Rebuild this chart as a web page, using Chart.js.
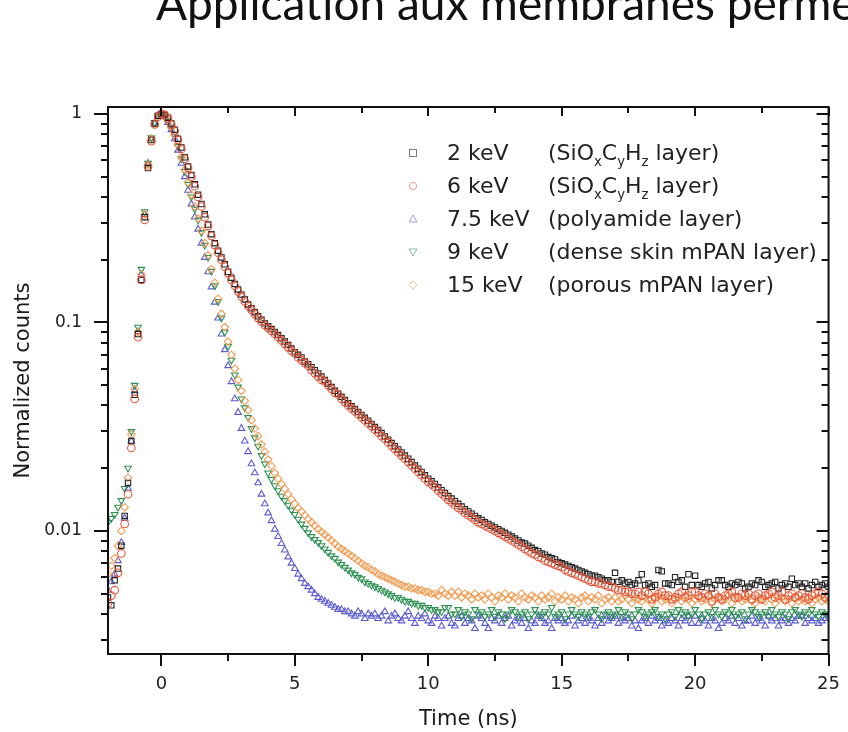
<!DOCTYPE html>
<html>
<head>
<meta charset="utf-8">
<script src="https://cdn.jsdelivr.net/npm/chart.js@4.4.1/dist/chart.umd.min.js"></script>
<style>
    html, body { margin: 0; padding: 0; background: #fff; }
    #contenedor { position: relative; width: 848px; height: 732px; overflow: hidden; }
    #graficaDecaimiento { position: absolute; left: 0; top: 0; }
    .titulo { position: absolute; left: 156px; top: -20px; font-family: Lato, 'Open Sans', sans-serif; font-size: 46px; line-height: 46px; white-space: nowrap; color: #111; }
    .fila-leyenda { position: absolute; left: 0; height: 24px; line-height: 24px; font-family: 'DejaVu Sans', sans-serif; font-size: 22px; color: #222; white-space: nowrap; }
    .fila-leyenda span, .fila-leyenda svg { position: absolute; top: 0; }
    .fila-leyenda svg { top: 5px; }
    sub { font-size: 0.6em; vertical-align: -0.45em; line-height: 0; }
</style>
</head>
<body>
<div id="contenedor">
    <canvas id="graficaDecaimiento" width="848" height="732"></canvas>
    <div class="titulo">Application aux membranes perméables</div>
    <div id="leyendaSeries"></div>
</div>
<script>
// --- Datos (tiempo en ns, cuentas normalizadas), una fila = 1 ns ---
const tiempos = [
    -2, -1.875, -1.75, -1.625, -1.5, -1.375, -1.25, -1.125,
    -1, -0.875, -0.75, -0.625, -0.5, -0.375, -0.25, -0.125,
    0, 0.125, 0.25, 0.375, 0.5, 0.625, 0.75, 0.875,
    1, 1.125, 1.25, 1.375, 1.5, 1.625, 1.75, 1.875,
    2, 2.125, 2.25, 2.375, 2.5, 2.625, 2.75, 2.875,
    3, 3.125, 3.25, 3.375, 3.5, 3.625, 3.75, 3.875,
    4, 4.125, 4.25, 4.375, 4.5, 4.625, 4.75, 4.875,
    5, 5.125, 5.25, 5.375, 5.5, 5.625, 5.75, 5.875,
    6, 6.125, 6.25, 6.375, 6.5, 6.625, 6.75, 6.875,
    7, 7.125, 7.25, 7.375, 7.5, 7.625, 7.75, 7.875,
    8, 8.125, 8.25, 8.375, 8.5, 8.625, 8.75, 8.875,
    9, 9.125, 9.25, 9.375, 9.5, 9.625, 9.75, 9.875,
    10, 10.125, 10.25, 10.375, 10.5, 10.625, 10.75, 10.875,
    11, 11.125, 11.25, 11.375, 11.5, 11.625, 11.75, 11.875,
    12, 12.125, 12.25, 12.375, 12.5, 12.625, 12.75, 12.875,
    13, 13.125, 13.25, 13.375, 13.5, 13.625, 13.75, 13.875,
    14, 14.125, 14.25, 14.375, 14.5, 14.625, 14.75, 14.875,
    15, 15.125, 15.25, 15.375, 15.5, 15.625, 15.75, 15.875,
    16, 16.125, 16.25, 16.375, 16.5, 16.625, 16.75, 16.875,
    17, 17.125, 17.25, 17.375, 17.5, 17.625, 17.75, 17.875,
    18, 18.125, 18.25, 18.375, 18.5, 18.625, 18.75, 18.875,
    19, 19.125, 19.25, 19.375, 19.5, 19.625, 19.75, 19.875,
    20, 20.125, 20.25, 20.375, 20.5, 20.625, 20.75, 20.875,
    21, 21.125, 21.25, 21.375, 21.5, 21.625, 21.75, 21.875,
    22, 22.125, 22.25, 22.375, 22.5, 22.625, 22.75, 22.875,
    23, 23.125, 23.25, 23.375, 23.5, 23.625, 23.75, 23.875,
    24, 24.125, 24.25, 24.375, 24.5, 24.625, 24.75, 24.875,
    25
];

const cuentas2keV = [
    0.0048, 0.0044, 0.0058, 0.0066, 0.0085, 0.0118, 0.017, 0.027,
    0.045, 0.088, 0.16, 0.32, 0.55, 0.75, 0.9, 0.98,
    1.0, 0.99, 0.96, 0.9, 0.84, 0.76, 0.69, 0.62,
    0.56, 0.51, 0.46, 0.41, 0.37, 0.33, 0.295, 0.265,
    0.24, 0.221, 0.205, 0.19, 0.175, 0.164, 0.153, 0.144,
    0.136, 0.129, 0.122, 0.117, 0.112, 0.107, 0.103, 0.099,
    0.096, 0.093, 0.09, 0.087, 0.084, 0.081, 0.078, 0.075,
    0.072, 0.07, 0.068, 0.065, 0.063, 0.061, 0.059, 0.057,
    0.055, 0.053, 0.051, 0.049, 0.047, 0.0455, 0.044, 0.0425,
    0.041, 0.0397, 0.0385, 0.0372, 0.036, 0.0349, 0.0338, 0.0326,
    0.0315, 0.0305, 0.0295, 0.0284, 0.0274, 0.0264, 0.0255, 0.0246,
    0.0238, 0.023, 0.0222, 0.0214, 0.0206, 0.0199, 0.0192, 0.0185,
    0.0178, 0.0173, 0.0168, 0.0162, 0.0157, 0.0152, 0.0147, 0.0143,
    0.0139, 0.0135, 0.0131, 0.0127, 0.0124, 0.0121, 0.0118, 0.0115,
    0.0113, 0.011, 0.0108, 0.0106, 0.0104, 0.0102, 0.0100, 0.0098,
    0.0096, 0.0094, 0.0092, 0.0090, 0.0088, 0.0087, 0.0085, 0.0083,
    0.0081, 0.0080, 0.0078, 0.0077, 0.0075, 0.0074, 0.0073, 0.0071,
    0.0070, 0.0069, 0.0068, 0.0067, 0.0066, 0.0065, 0.0064, 0.0063,
    0.0062, 0.0061, 0.0061, 0.0060, 0.0059, 0.0058, 0.0058, 0.0057,
    0.0063, 0.0057, 0.0058, 0.0056, 0.0057, 0.0055, 0.0056, 0.0058,
    0.0062, 0.0055, 0.0056, 0.0054, 0.0055, 0.0065, 0.0064, 0.0056,
    0.0056, 0.0055, 0.0060, 0.0057, 0.0058, 0.0054, 0.0062, 0.0055,
    0.0061, 0.0055, 0.0054, 0.0056, 0.0057, 0.0053, 0.0055, 0.0058,
    0.0058, 0.0055, 0.0054, 0.0056, 0.0055, 0.0057, 0.0056, 0.0053,
    0.0054, 0.0056, 0.0055, 0.0058, 0.0057, 0.0054, 0.0055, 0.0056,
    0.0057, 0.0053, 0.0055, 0.0056, 0.0054, 0.0059, 0.0055, 0.0056,
    0.0054, 0.0056, 0.0053, 0.0055, 0.0057, 0.0054, 0.0055, 0.0056,
    0.0054
];

const cuentas6keV = [
    0.0045, 0.0049, 0.0052, 0.0063, 0.0078, 0.0108, 0.015, 0.025,
    0.043, 0.085, 0.16, 0.31, 0.56, 0.74, 0.89, 0.97,
    1.0, 0.99, 0.95, 0.89, 0.83, 0.75, 0.68, 0.61,
    0.55, 0.50, 0.45, 0.40, 0.36, 0.32, 0.29, 0.26,
    0.235, 0.216, 0.2, 0.185, 0.172, 0.16, 0.15, 0.141,
    0.133, 0.126, 0.12, 0.115, 0.11, 0.105, 0.101, 0.097,
    0.094, 0.091, 0.088, 0.085, 0.082, 0.079, 0.076, 0.073,
    0.071, 0.068, 0.066, 0.064, 0.062, 0.059, 0.057, 0.055,
    0.053, 0.052, 0.050, 0.048, 0.046, 0.045, 0.043, 0.0415,
    0.040, 0.0387, 0.0375, 0.0362, 0.035, 0.0339, 0.0328, 0.0317,
    0.0306, 0.0296, 0.0285, 0.0276, 0.0266, 0.0256, 0.0247, 0.0238,
    0.023, 0.0222, 0.0214, 0.0206, 0.0199, 0.0192, 0.0185, 0.0178,
    0.0172, 0.0167, 0.0162, 0.0156, 0.0151, 0.0146, 0.0141, 0.0137,
    0.0133, 0.0129, 0.0126, 0.0122, 0.0119, 0.0116, 0.0113, 0.0110,
    0.0108, 0.0106, 0.0104, 0.0102, 0.0100, 0.0098, 0.0096, 0.0094,
    0.0092, 0.0090, 0.0088, 0.0086, 0.0084, 0.0082, 0.0080, 0.0078,
    0.0077, 0.0075, 0.0074, 0.0072, 0.0071, 0.0070, 0.0069, 0.0068,
    0.0067, 0.0065, 0.0064, 0.0063, 0.0062, 0.0061, 0.0060, 0.0059,
    0.0058, 0.0057, 0.0057, 0.0056, 0.0056, 0.0055, 0.0054, 0.0054,
    0.0053, 0.0052, 0.0052, 0.0051, 0.0051, 0.0050, 0.0050, 0.0051,
    0.0049, 0.0051, 0.0050, 0.0047, 0.0048, 0.0050, 0.0051, 0.0049,
    0.0049, 0.0047, 0.0048, 0.0050, 0.0051, 0.0048, 0.0049, 0.0051,
    0.0051, 0.0049, 0.0048, 0.0050, 0.0049, 0.0046, 0.0050, 0.0048,
    0.0047, 0.0049, 0.0050, 0.0051, 0.0048, 0.0048, 0.0050, 0.0049,
    0.0050, 0.0047, 0.0049, 0.0050, 0.0047, 0.0049, 0.0050, 0.0051,
    0.0048, 0.0049, 0.0051, 0.0047, 0.0049, 0.0050, 0.0048, 0.0049,
    0.0050, 0.0048, 0.0047, 0.0049, 0.0050, 0.0051, 0.0050, 0.0048,
    0.0049
];

const cuentas7_5keV = [
    0.0052, 0.0057, 0.0062, 0.0072, 0.0088, 0.0115, 0.016, 0.027,
    0.047, 0.090, 0.17, 0.33, 0.58, 0.76, 0.9, 0.98,
    1.0, 0.97, 0.91, 0.84, 0.76, 0.67, 0.58, 0.50,
    0.43, 0.37, 0.32, 0.28, 0.24, 0.205, 0.175, 0.148,
    0.125, 0.105, 0.088, 0.074, 0.062, 0.052, 0.043, 0.037,
    0.031, 0.027, 0.024, 0.021, 0.019, 0.017, 0.015, 0.0135,
    0.0122, 0.0112, 0.0102, 0.0094, 0.0087, 0.0081, 0.0075, 0.0070,
    0.0066, 0.0062, 0.0059, 0.0056, 0.0054, 0.0052, 0.0050, 0.0048,
    0.0047, 0.0046, 0.0045, 0.0044, 0.0043, 0.0042, 0.0042, 0.0041,
    0.0041, 0.0040, 0.0039, 0.0041, 0.0040, 0.0038, 0.0040, 0.0039,
    0.0040, 0.0038, 0.0039, 0.0041, 0.0037, 0.0039, 0.0040, 0.0038,
    0.0037, 0.0039, 0.0041, 0.0038, 0.0036, 0.0039, 0.0038, 0.0040,
    0.0037, 0.0036, 0.0039, 0.0038, 0.0035, 0.0038, 0.0039, 0.0036,
    0.0035, 0.0038, 0.0039, 0.0036, 0.0038, 0.0037, 0.0034, 0.0039,
    0.0038, 0.0036, 0.0034, 0.0038, 0.0037, 0.0039, 0.0036, 0.0038,
    0.0039, 0.0035, 0.0037, 0.0038, 0.0036, 0.0038, 0.0034, 0.0037,
    0.0036, 0.0039, 0.0038, 0.0036, 0.0037, 0.0034, 0.0038, 0.0037,
    0.0038, 0.0036, 0.0037, 0.0039, 0.0035, 0.0037, 0.0038, 0.0036,
    0.0038, 0.0037, 0.0035, 0.0038, 0.0036, 0.0039, 0.0037, 0.0038,
    0.0039, 0.0036, 0.0038, 0.0037, 0.0038, 0.0035, 0.0037, 0.0034,
    0.0037, 0.0038, 0.0036, 0.0039, 0.0037, 0.0038, 0.0035, 0.0037,
    0.0036, 0.0038, 0.0037, 0.0035, 0.0038, 0.0037, 0.0039, 0.0036,
    0.0039, 0.0036, 0.0038, 0.0037, 0.0035, 0.0038, 0.0037, 0.0034,
    0.0036, 0.0038, 0.0037, 0.0039, 0.0036, 0.0038, 0.0035, 0.0037,
    0.0037, 0.0039, 0.0036, 0.0038, 0.0037, 0.0035, 0.0039, 0.0037,
    0.0038, 0.0035, 0.0037, 0.0038, 0.0036, 0.0038, 0.0037, 0.0039,
    0.0039, 0.0036, 0.0038, 0.0037, 0.0038, 0.0036, 0.0037, 0.0038,
    0.0038
];

const cuentas9keV = [
    0.011, 0.0115, 0.012, 0.013, 0.014, 0.016, 0.020, 0.030,
    0.050, 0.095, 0.18, 0.34, 0.58, 0.77, 0.91, 0.98,
    1.0, 0.97, 0.92, 0.85, 0.78, 0.70, 0.61, 0.53,
    0.46, 0.40, 0.35, 0.31, 0.27, 0.235, 0.205, 0.176,
    0.15, 0.126, 0.105, 0.090, 0.077, 0.066, 0.056, 0.049,
    0.043, 0.039, 0.035, 0.031, 0.028, 0.0255, 0.023, 0.021,
    0.019, 0.0177, 0.0165, 0.0156, 0.0147, 0.0140, 0.0133, 0.0126,
    0.0120, 0.0114, 0.0108, 0.0103, 0.0098, 0.0094, 0.0091, 0.0088,
    0.0085, 0.0082, 0.0079, 0.0076, 0.0074, 0.0071, 0.0069, 0.0067,
    0.0065, 0.0063, 0.0062, 0.0060, 0.0059, 0.0057, 0.0056, 0.0055,
    0.0054, 0.0053, 0.0052, 0.0051, 0.0050, 0.0049, 0.0048, 0.0048,
    0.0047, 0.0046, 0.0046, 0.0045, 0.0045, 0.0044, 0.0044, 0.0043,
    0.0043, 0.0042, 0.0042, 0.0041, 0.0041, 0.0043, 0.0043, 0.0040,
    0.0040, 0.0042, 0.0039, 0.0041, 0.0040, 0.0038, 0.0042, 0.0040,
    0.0041, 0.0039, 0.0040, 0.0042, 0.0039, 0.0041, 0.0040, 0.0038,
    0.0040, 0.0042, 0.0041, 0.0039, 0.0040, 0.0041, 0.0038, 0.0040,
    0.0042, 0.0040, 0.0039, 0.0041, 0.0040, 0.0043, 0.0039, 0.0040,
    0.0041, 0.0038, 0.0040, 0.0042, 0.0040, 0.0039, 0.0041, 0.0040,
    0.0039, 0.0041, 0.0042, 0.0040, 0.0038, 0.0040, 0.0041, 0.0039,
    0.0040, 0.0042, 0.0039, 0.0041, 0.0040, 0.0038, 0.0040, 0.0042,
    0.0041, 0.0039, 0.0040, 0.0041, 0.0042, 0.0039, 0.0040, 0.0038,
    0.0040, 0.0041, 0.0039, 0.0042, 0.0040, 0.0041, 0.0039, 0.0040,
    0.0042, 0.0040, 0.0038, 0.0040, 0.0041, 0.0039, 0.0042, 0.0040,
    0.0039, 0.0041, 0.0040, 0.0042, 0.0039, 0.0040, 0.0041, 0.0038,
    0.0040, 0.0042, 0.0041, 0.0039, 0.0040, 0.0041, 0.0039, 0.0042,
    0.0040, 0.0039, 0.0041, 0.0040, 0.0038, 0.0041, 0.0042, 0.0040,
    0.0039, 0.0041, 0.0040, 0.0042, 0.0040, 0.0039, 0.0041, 0.0040,
    0.0040
];

const cuentas15keV = [
    0.0062, 0.0068, 0.0074, 0.0085, 0.010, 0.013, 0.018, 0.029,
    0.048, 0.090, 0.17, 0.33, 0.57, 0.76, 0.9, 0.98,
    1.0, 0.98, 0.93, 0.86, 0.79, 0.71, 0.62, 0.54,
    0.47, 0.41, 0.36, 0.315, 0.275, 0.24, 0.21, 0.18,
    0.155, 0.13, 0.11, 0.095, 0.081, 0.070, 0.060, 0.053,
    0.047, 0.042, 0.038, 0.034, 0.031, 0.0285, 0.026, 0.024,
    0.022, 0.0205, 0.019, 0.0178, 0.0168, 0.0159, 0.0150, 0.0142,
    0.0135, 0.0129, 0.0124, 0.0119, 0.0114, 0.0110, 0.0106, 0.0102,
    0.0099, 0.0096, 0.0093, 0.0090, 0.0087, 0.0084, 0.0082, 0.0080,
    0.0078, 0.0076, 0.0074, 0.0072, 0.0070, 0.0068, 0.0067, 0.0065,
    0.0064, 0.0062, 0.0061, 0.0060, 0.0059, 0.0058, 0.0057, 0.0056,
    0.0055, 0.0054, 0.0054, 0.0053, 0.0053, 0.0052, 0.0052, 0.0051,
    0.0051, 0.0050, 0.0050, 0.0049, 0.0052, 0.0050, 0.0049, 0.0051,
    0.0049, 0.0051, 0.0048, 0.0050, 0.0049, 0.0047, 0.0050, 0.0048,
    0.0049, 0.0047, 0.0050, 0.0048, 0.0046, 0.0049, 0.0048, 0.0050,
    0.0047, 0.0049, 0.0048, 0.0046, 0.0050, 0.0048, 0.0047, 0.0049,
    0.0048, 0.0046, 0.0049, 0.0047, 0.0048, 0.0050, 0.0046, 0.0048,
    0.0047, 0.0049, 0.0046, 0.0048, 0.0047, 0.0045, 0.0048, 0.0049,
    0.0046, 0.0048, 0.0047, 0.0049, 0.0045, 0.0047, 0.0048, 0.0046,
    0.0048, 0.0046, 0.0047, 0.0049, 0.0047, 0.0045, 0.0048, 0.0047,
    0.0046, 0.0048, 0.0047, 0.0045, 0.0048, 0.0049, 0.0046, 0.0047,
    0.0048, 0.0045, 0.0047, 0.0048, 0.0046, 0.0049, 0.0047, 0.0045,
    0.0047, 0.0048, 0.0046, 0.0047, 0.0049, 0.0045, 0.0047, 0.0048,
    0.0046, 0.0047, 0.0049, 0.0045, 0.0047, 0.0048, 0.0046, 0.0047,
    0.0048, 0.0046, 0.0045, 0.0048, 0.0047, 0.0046, 0.0049, 0.0047,
    0.0045, 0.0047, 0.0048, 0.0046, 0.0047, 0.0045, 0.0048, 0.0046,
    0.0047, 0.0046, 0.0048, 0.0045, 0.0047, 0.0048, 0.0046, 0.0047,
    0.0046
];

// Etiquetas de la leyenda
const energias = ['2 keV', '6 keV', '7.5 keV', '9 keV', '15 keV'];
const capas = [
    '(SiO<sub>x</sub>C<sub>y</sub>H<sub>z</sub> layer)',
    '(SiO<sub>x</sub>C<sub>y</sub>H<sub>z</sub> layer)',
    '(polyamide layer)',
    '(dense skin mPAN layer)',
    '(porous mPAN layer)'
];

// Marcas de los ejes
const tiempoTicks = [0, 2.5, 5, 7.5, 10, 12.5, 15, 17.5, 20, 22.5, 25];
const tiempoMayores = [0, 5, 10, 15, 20, 25];
const conteoTicks = [
    0.003, 0.004, 0.005, 0.006, 0.007, 0.008, 0.009,
    0.01, 0.02, 0.03, 0.04, 0.05, 0.06, 0.07, 0.08, 0.09,
    0.1, 0.2, 0.3, 0.4, 0.5, 0.6, 0.7, 0.8, 0.9, 1
];
const conteoMayores = [0.01, 0.1, 1];

// Estilo de cada serie (colores al estilo Origin)
const coloresSeries = ['#222222', '#e4553a', '#5c5cd2', '#2f9154', '#f39c52'];
const formasSeries = ['rect', 'circle', 'triangle', 'triangle', 'rectRot'];
const rotacionSeries = [0, 0, 0, 180, 0];
const ordenSeries = [2, 1, 5, 4, 3];

const seriesValores = [cuentas2keV, cuentas6keV, cuentas7_5keV, cuentas9keV, cuentas15keV];

const fuenteEjes = 'DejaVu Sans';

// --- Plugin: marco del gráfico y marcas (hacia fuera abajo/izquierda, hacia dentro arriba/derecha) ---
const marcoPlugin = {
    id: 'marcoOrigin',
    afterDatasetsDraw(chart) {
        const { ctx, chartArea: a, scales: { x, y } } = chart;
        ctx.save();
        ctx.strokeStyle = '#111';
        ctx.lineWidth = 2;
        ctx.strokeRect(a.left, a.top, a.right - a.left, a.bottom - a.top);

        ctx.beginPath();
        tiempoTicks.forEach(v => {
            const px = Math.round(x.getPixelForValue(v));
            const mayor = tiempoMayores.includes(v);
            ctx.moveTo(px, a.bottom);
            ctx.lineTo(px, a.bottom + (mayor ? 12 : 7));
            ctx.moveTo(px, a.top);
            ctx.lineTo(px, a.top + (mayor ? 9 : 6));
        });
        conteoTicks.forEach(v => {
            const py = Math.round(y.getPixelForValue(v));
            const mayor = conteoMayores.includes(v);
            ctx.moveTo(a.left - (mayor ? 14 : 7), py);
            ctx.lineTo(a.left, py);
            ctx.moveTo(a.right - (mayor ? 12 : 7), py);
            ctx.lineTo(a.right, py);
        });
        ctx.stroke();
        ctx.restore();
    }
};

function renderizarGrafica() {
    const ctx = document.getElementById('graficaDecaimiento');

    const datasets = seriesValores.map((valores, i) => ({
        label: energias[i],
        data: tiempos.map((t, j) => ({ x: t, y: valores[j] })),
        showLine: false,
        pointStyle: formasSeries[i],
        rotation: rotacionSeries[i],
        pointRadius: 3.8,
        borderWidth: 1.1,
        borderColor: coloresSeries[i],
        backgroundColor: 'rgba(255,255,255,0)',
        order: ordenSeries[i]
    }));

    new Chart(ctx, {
        type: 'scatter',
        data: { datasets },
        options: {
            responsive: false,
            animation: false,
            devicePixelRatio: 1,
            layout: { padding: { left: 0, right: 15, top: 107, bottom: 0 } },
            plugins: {
                legend: { display: false },
                tooltip: { enabled: false }
            },
            scales: {
                x: {
                    type: 'linear',
                    min: -2,
                    max: 25,
                    afterBuildTicks: escala => { escala.ticks = tiempoTicks.map(v => ({ value: v })); },
                    afterFit: escala => { escala.height = 78; },
                    border: { display: false },
                    grid: { drawOnChartArea: false, drawTicks: true, tickLength: 12, tickColor: 'rgba(0,0,0,0)' },
                    ticks: {
                        autoSkip: false,
                        maxRotation: 0,
                        padding: 8,
                        color: '#222',
                        font: { family: fuenteEjes, size: 18 },
                        callback: v => (tiempoMayores.includes(v) ? String(v) : '')
                    },
                    title: {
                        display: true,
                        text: 'Time (ns)',
                        color: '#1a1a1a',
                        font: { family: fuenteEjes, size: 21 },
                        padding: 0
                    }
                },
                y: {
                    type: 'logarithmic',
                    min: 0.00257,
                    max: 1.08,
                    afterBuildTicks: escala => { escala.ticks = conteoTicks.map(v => ({ value: v })); },
                    afterFit: escala => { escala.width = 108; },
                    border: { display: false },
                    grid: { drawOnChartArea: false, drawTicks: true, tickLength: 14, tickColor: 'rgba(0,0,0,0)' },
                    ticks: {
                        autoSkip: false,
                        padding: 12,
                        color: '#222',
                        font: { family: fuenteEjes, size: 17 },
                        callback: v => (conteoMayores.includes(v) ? String(v) : '')
                    },
                    title: {
                        display: true,
                        text: 'Normalized counts',
                        color: '#1a1a1a',
                        font: { family: fuenteEjes, size: 21 },
                        padding: 11
                    }
                }
            }
        },
        plugins: [marcoPlugin]
    });
}

// --- Leyenda en HTML (para poder usar subíndices) ---
function svgMarcador(i) {
    const c = coloresSeries[i];
    const formas = [
        `<rect x="3.5" y="3.5" width="7" height="7" fill="none" stroke="${c}" stroke-width="1"/>`,
        `<circle cx="7" cy="7" r="3.6" fill="none" stroke="${c}" stroke-width="1"/>`,
        `<polygon points="7,3 11,10 3,10" fill="none" stroke="${c}" stroke-width="1"/>`,
        `<polygon points="3,4 11,4 7,11" fill="none" stroke="${c}" stroke-width="1"/>`,
        `<polygon points="7,3 11,7 7,11 3,7" fill="none" stroke="${c}" stroke-width="1"/>`
    ];
    return `<svg width="14" height="14" style="left:406px;opacity:0.6">${formas[i]}</svg>`;
}

function renderizarLeyenda() {
    const leyenda = document.getElementById('leyendaSeries');
    const centrosFilas = [153, 186, 219, 252, 285];
    energias.forEach((energia, i) => {
        const fila = document.createElement('div');
        fila.className = 'fila-leyenda';
        fila.style.top = (centrosFilas[i] - 12) + 'px';
        fila.innerHTML = `
            ${svgMarcador(i)}
            <span style="left:447px">${energia}</span>
            <span style="left:548px">${capas[i]}</span>
        `;
        leyenda.appendChild(fila);
    });
}

renderizarGrafica();
renderizarLeyenda();
</script>
</body>
</html>
